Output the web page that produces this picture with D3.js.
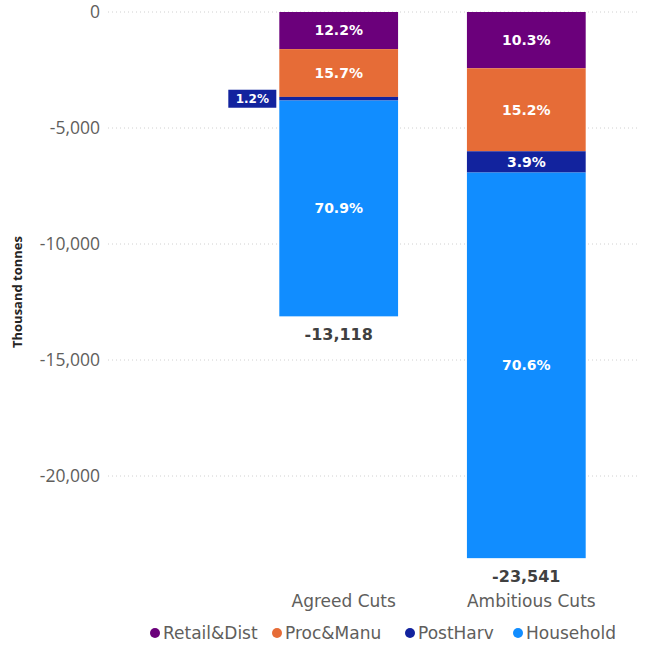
<!DOCTYPE html>
<html>
<head>
<meta charset="utf-8">
<script src="https://cdn.jsdelivr.net/npm/d3@7"></script>
<style>
  body { margin: 0; background: #fff; }
  svg { display: block; font-family: "DejaVu Sans", sans-serif; }
</style>
</head>
<body>
<svg width="645" height="648"></svg>
<script>
var categories = ['Agreed Cuts', 'Ambitious Cuts'];
var seriesNames = ['Retail&Dist', 'Proc&Manu', 'PostHarv', 'Household'];
var seriesColors = ['#6B007B', '#E66C37', '#12239E', '#118DFF'];
// thousand tonnes, per category, same order as seriesNames
var retail = [-1600, -2425];
var procManu = [-2060, -3578];
var postHarv = [-157, -918];
var household = [-9301, -16620];
var shareLabels = [['12.2%', '15.7%', '1.2%', '70.9%'],
                   ['10.3%', '15.2%', '3.9%', '70.6%']];
var totals = [-13118, -23541];
var yTicks = [0, -5000, -10000, -15000, -20000];

var svg = d3.select('svg');
var series = [retail, procManu, postHarv, household];

var y = d3.scaleLinear().domain([0, -25000]).range([12, 592]);
var x = d3.scaleBand().domain(categories).range([185.5, 679.5])
          .paddingInner(0.367).paddingOuter(0.5);

// gridlines
svg.append('g').selectAll('line').data(yTicks).enter().append('line')
  .attr('x1', 108).attr('x2', 640)
  .attr('y1', function(d){ return y(d); }).attr('y2', function(d){ return y(d); })
  .attr('stroke', '#d0d0d0').attr('stroke-width', 1).attr('stroke-dasharray', '1,3');

// y axis labels
var yAxis = d3.axisLeft(y).tickValues(yTicks).tickSize(0).tickPadding(0);
var gy = svg.append('g').attr('transform', 'translate(100,0)').call(yAxis);
gy.select('.domain').remove();
gy.selectAll('text').attr('fill', '#605e5c').style('font-size', '17.5px')
  .style('font-family', '"Open Sans", sans-serif')
  .text(function(d){ return d3.format(',.0f')(d).replace('−', '-'); });

svg.append('text')
  .attr('transform', 'translate(17,292) rotate(-90)')
  .attr('text-anchor', 'middle').attr('dy', '0.35em')
  .attr('fill', '#252423').style('font-size', '13px').style('font-weight', 700)
  .style('font-family', '"Open Sans", sans-serif')
  .text('Thousand tonnes');

// stacked segments
categories.forEach(function(cat, ci){
  var acc = 0;
  series.forEach(function(s, si){
    var top = acc, bottom = acc + s[ci];
    acc = bottom;
    svg.append('rect')
      .attr('x', x(cat)).attr('width', x.bandwidth())
      .attr('y', y(top)).attr('height', y(bottom) - y(top))
      .attr('fill', seriesColors[si]);

    var mid = (y(top) + y(bottom)) / 2;
    var segH = y(bottom) - y(top);
    if (segH < 14) {
      // too thin: label sits outside, to the left, in a box
      var bx = x(cat) - 51, bw = 48;
      svg.append('rect').attr('x', bx).attr('y', mid - 9).attr('width', bw).attr('height', 18)
        .attr('fill', seriesColors[si]);
      svg.append('text').attr('x', bx + bw / 2).attr('y', mid).attr('dy', '0.35em')
        .attr('text-anchor', 'middle').attr('fill', '#fff')
        .style('font-size', '12px').style('font-weight', 700)
        .text(shareLabels[ci][si]);
    } else {
      svg.append('text').attr('x', x(cat) + x.bandwidth() / 2).attr('y', mid).attr('dy', '0.35em')
        .attr('text-anchor', 'middle').attr('fill', '#fff')
        .style('font-size', '14px').style('font-weight', 700)
        .text(shareLabels[ci][si]);
    }
  });

  svg.append('text').attr('x', x(cat) + x.bandwidth() / 2).attr('y', y(totals[ci]) + 18)
    .attr('dy', '0.35em').attr('text-anchor', 'middle').attr('fill', '#404040')
    .style('font-size', '16px').style('font-weight', 700)
    .text(d3.format(',')(totals[ci]).replace('−', '-'));

  svg.append('text').attr('x', x(cat) + x.bandwidth() / 2 + 5).attr('y', 601)
    .attr('dy', '0.35em').attr('text-anchor', 'middle').attr('fill', '#605e5c')
    .style('font-size', '17px')
    .text(cat);
});

// legend
var legendX = [155, 277, 410, 518];
var lg = svg.append('g').selectAll('g').data(seriesNames).enter().append('g')
  .attr('transform', function(d, i){ return 'translate(' + legendX[i] + ',633)'; });
lg.append('circle').attr('cx', 0).attr('cy', 0).attr('r', 5)
  .attr('fill', function(d, i){ return seriesColors[i]; });
lg.append('text').attr('x', 8).attr('dy', '0.35em').attr('fill', '#605e5c')
  .style('font-size', '17px').text(function(d){ return d; });
</script>
</body>
</html>
